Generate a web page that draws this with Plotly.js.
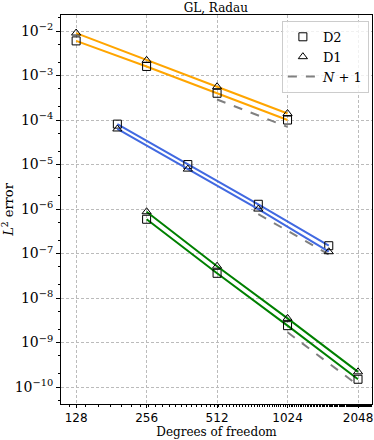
<!DOCTYPE html>
<html>
<head>
<meta charset="utf-8">
<script src="https://cdn.plot.ly/plotly-3.0.1.min.js"></script>
<style>html,body{margin:0;padding:0;background:#fff}</style>
</head>
<body>
<div id="chart" style="width:374px;height:440px"></div>
<script>
// degrees of freedom per series
var dofOrange = [128, 256, 512, 1024];
var dofBlue = [192, 384, 768, 1536];
var dofGreen = [256, 512, 1024, 2048];

// L2 errors
var d2Orange = [6.0e-3, 1.6e-3, 4.0e-4, 1.0e-4];
var d1Orange = [9.0e-3, 2.2e-3, 5.6e-4, 1.4e-4];
var d2Blue = [8.1e-5, 1.0e-5, 1.28e-6, 1.5e-7];
var d1Blue = [6.3e-5, 7.9e-6, 1.0e-6, 1.1e-7];
var d2Green = [5.9e-7, 3.6e-8, 2.4e-9, 1.5e-10];
var d1Green = [8.7e-7, 5.2e-8, 3.5e-9, 2.2e-10];

// N+1 reference slopes
var refOrangeX = [512, 1024], refOrangeY = [2.9e-4, 7.0e-5];
var refBlueX = [768, 1536], refBlueY = [7.7e-7, 9.6e-8];
var refGreenX = [1024, 2048], refGreenY = [1.7e-9, 1.1e-10];

var xTicks = [128, 256, 512, 1024, 2048];
var yTickVals = [1e-10, 1e-9, 1e-8, 1e-7, 1e-6, 1e-5, 1e-4, 1e-3, 1e-2];
var yTickText = yTickVals.map(v => '10<sup>\u2212' + Math.round(-Math.log10(v)) + '</sup>');

var serif = 'DejaVu Serif, serif';
var traces = [];

function addSeries(x, y, color, symbol, name, legend) {
    traces.push({x: x, y: y, mode: 'lines', line: {color: color, width: 2}, showlegend: false, hoverinfo: 'skip'});
    traces.push({x: x, y: y, mode: 'markers', name: name, showlegend: legend,
        marker: {symbol: symbol, size: 8, color: '#000', line: {color: '#000', width: 1}}});
}
function addRef(x, y, legend) {
    traces.push({x: x, y: y, mode: 'lines', name: '<i>N</i> + 1', showlegend: legend,
        line: {color: '#808080', width: 2, dash: 'dash'}});
}

addRef(refOrangeX, refOrangeY, false);
addRef(refBlueX, refBlueY, false);
addRef(refGreenX, refGreenY, false);
addSeries(dofOrange, d2Orange, '#ffa500', 'square-open', 'D2', true);
addSeries(dofOrange, d1Orange, '#ffa500', 'triangle-up-open', 'D1', true);
addSeries(dofBlue, d2Blue, '#4169e1', 'square-open', 'D2', false);
addSeries(dofBlue, d1Blue, '#4169e1', 'triangle-up-open', 'D1', false);
addSeries(dofGreen, d2Green, '#008000', 'square-open', 'D2', false);
addSeries(dofGreen, d1Green, '#008000', 'triangle-up-open', 'D1', false);
// legend entry for N+1 last
traces.push({x: [null], y: [null], mode: 'lines', name: '<i>N</i> + 1',
    line: {color: '#808080', width: 2, dash: 'dash'}});

var layout = {
    width: 374, height: 440,
    margin: {l: 61, r: 2, t: 15, b: 36, autoexpand: false},
    paper_bgcolor: '#fff', plot_bgcolor: '#fff',
    title: {text: 'GL, Radau', font: {family: serif, size: 12, color: '#000'},
        x: 0.577, xref: 'container', y: 0.983, yref: 'container', yanchor: 'middle'},
    xaxis: {
        type: 'log', range: [Math.log10(110.3), Math.log10(2350)],
        tickvals: xTicks, ticktext: xTicks.map(String),
        tickfont: {family: 'DejaVu Sans, sans-serif', size: 12, color: '#000'},
        ticks: 'outside', ticklen: 3, tickcolor: '#000',
        showline: true, linecolor: '#000', linewidth: 1, mirror: true,
        showgrid: true, gridcolor: '#bbbbbb', griddash: '3px,2px', gridwidth: 1,
        zeroline: false, automargin: false,
        minor: {ticks: 'outside', ticklen: 2, tickcolor: '#000', showgrid: false},
        title: {text: 'Degrees of freedom', font: {family: serif, size: 12, color: '#000'}, standoff: 2}
    },
    yaxis: {
        type: 'log', range: [-10.38, -1.64],
        tickvals: yTickVals, ticktext: yTickText,
        tickfont: {family: serif, size: 14, color: '#000'},
        ticks: 'outside', ticklen: 4, tickcolor: '#000',
        showline: true, linecolor: '#000', linewidth: 1, mirror: true,
        showgrid: true, gridcolor: '#bbbbbb', griddash: '3px,2px', gridwidth: 1,
        zeroline: false, automargin: false,
        minor: {ticks: 'outside', ticklen: 2, tickcolor: '#000', showgrid: false},
        title: {text: '<i>L</i><sup>2</sup> error', font: {family: serif, size: 13, color: '#000'}, standoff: 2}
    },
    legend: {
        x: 0.99, xanchor: 'right', y: 0.985, yanchor: 'top',
        bgcolor: 'rgba(255,255,255,0.8)', bordercolor: '#ccc', borderwidth: 1,
        font: {family: serif, size: 13, color: '#000'},
        tracegroupgap: 0
    },
    showlegend: true
};

Plotly.newPlot('chart', traces, layout, {displayModeBar: false, staticPlot: true});
</script>
</body>
</html>
